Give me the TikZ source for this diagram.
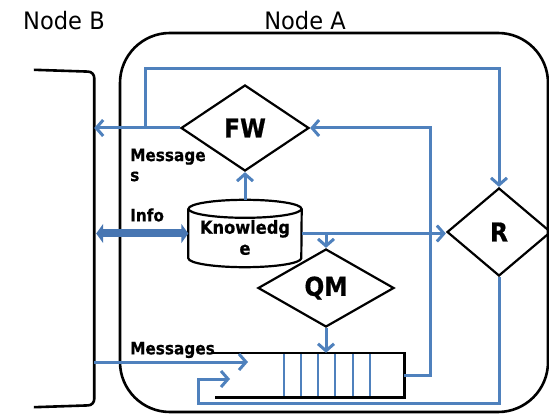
\documentclass[tikz,border=0pt]{standalone}
\usepackage{fontspec}
\setmainfont{DejaVu Sans}
\newfontfamily\titlefont[FakeStretch=0.94]{DejaVu Sans}
\newfontfamily\boldfont[FakeStretch=0.9,FakeBold=0.6]{DejaVu Sans Bold}
\usetikzlibrary{arrows.meta,shapes.geometric,calc}
\definecolor{flow}{RGB}{79,129,189}
\definecolor{flowdark}{RGB}{72,118,178}
\begin{document}
\begin{tikzpicture}[x=1pt,y=-1pt,
  frame/.style={draw=black,line width=2.6pt},
  decision/.style={diamond,draw=black,line width=2.2pt,inner sep=0pt,
    font=\boldfont\fontsize{26}{26}\selectfont},
  flowline/.style={draw=flow,line width=3pt,
    -{Straight Barb[length=7pt,width=16pt]}},
  infoarrow/.style={draw=flowdark,line width=8pt,
    {Triangle[length=7pt,width=19pt]}-{Triangle[length=7pt,width=19pt]}},
  tag/.style={font=\boldfont\fontsize{17}{20}\selectfont,inner sep=0pt,
    anchor=west,align=left},
  title/.style={font=\titlefont\fontsize{24}{24}\selectfont,inner sep=0pt}]
\useasboundingbox (0,0) rectangle (549,414);

% the two network nodes
\node[frame,rounded corners=50pt,minimum width=428pt,minimum height=379pt]
  (A) at (334,222.5) {};
\node[inner sep=0pt,minimum width=60pt,minimum height=335pt] (B) at (64,237.5) {};
\draw[frame,rounded corners=6pt]
  (B.north west) -- ($(B.north east)+(0,2)$) -- (B.south east) -- ($(B.south west)+(0,2)$);

\node[title] (labB) at (64,21) {Node B};
\node[title] (labA) at (305,21) {Node A};

% components inside node A
\node[decision,minimum width=128pt,minimum height=86pt] (FW) at (245,128) {FW};
\node[decision,minimum width=136pt,minimum height=78pt] (QM) at (326,288) {QM};
\node[decision,minimum width=104pt,minimum height=88pt] (R) at (499,232) {R};

% knowledge base (cylinder)
\node[inner sep=0pt,minimum width=113pt,minimum height=67pt] (know) at (245,233.5) {};
\draw[draw=black,line width=2.2pt]
  ($(know.north west)+(0,9)$) -- ($(know.south west)+(0,-9)$)
  arc[start angle=180,end angle=360,x radius=56.5pt,y radius=9pt]
  -- ($(know.north east)+(0,9)$);
\draw[draw=black,line width=2.2pt]
  ($(know.north)+(0,9)$) ellipse[x radius=56.5pt,y radius=9pt];
\node[inner sep=0pt,align=center,font=\boldfont\fontsize{18}{21}\selectfont]
  (knowtext) at ($(know.center)+(0,4)$) {Knowledg\\e};

% message queue, open on the left
\node[inner sep=0pt,minimum width=189pt,minimum height=44pt] (queue) at (309.5,375) {};
\foreach \d in {69,86,103,120,138,155}
  \draw[draw=flow,line width=1.4pt]
    ($(queue.north west)+(\d,0)$) -- ($(queue.south west)+(\d,0)$);
\draw[frame]
  ($(queue.north west)+(-2,0)$) -- (queue.north east) -- (queue.south east)
  -- (queue.south west);

% labels
\node[tag] (lblmsg) at (130,165) {Message\\s};
\node[tag] (lblinfo) at (130,215) {Info};
\node[tag] (lblin) at (130,350) {Messages};

% connectors
\coordinate (split) at (145,128);
\coordinate (rail) at (145,69);
\coordinate (msgend) at (248,362);
\coordinate (loopcorner) at (198,403);
\coordinate (loopend) at (230,379);

\draw[flowline] (FW.west) -- (FW.west -| B.east);
\draw[flowline] (split) -- (rail) -| (R.north);
\draw[flowline] (queue.east) -- ++(26,0) |- (FW.east);
\draw[flowline] (know.north) -- (FW.south);
\draw[flowline] (know.east) -- (know.east -| R.west);
\draw[flowline] (know.east -| QM.north) -- (QM.north);
\draw[flowline] (QM.south) -- (QM.south |- queue.north);
\draw[flowline] (B.east |- msgend) -- (msgend);
\draw[flowline] (R.south) |- (loopcorner) |- (loopend);
\draw[infoarrow] ($(B.east |- know.west)+(2,0)$) -- (know.west);
\end{tikzpicture}
\end{document}
